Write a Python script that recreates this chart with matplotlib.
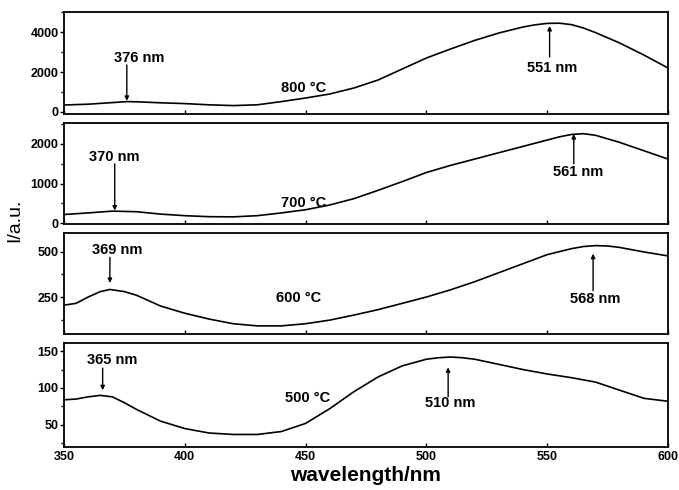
import numpy as np
import matplotlib.pyplot as plt
from matplotlib.ticker import MultipleLocator

plt.rcParams['font.family'] = ['Liberation Sans', 'DejaVu Sans']

# wavelength grids (nm) and intensities (a.u.)
wl_800 = [350, 360, 370, 376, 380, 390, 400, 410, 420, 430, 440, 450, 460, 470, 480,
          490, 500, 510, 520, 530, 540, 545, 550, 555, 560, 565, 570, 580, 590, 600]
i_800 = [350, 390, 470, 520, 510, 460, 420, 360, 320, 360, 520, 700, 900, 1200, 1600,
         2150, 2700, 3150, 3580, 3950, 4250, 4360, 4430, 4440, 4370, 4200, 3970, 3450, 2850, 2200]

wl_700 = [350, 360, 370, 380, 390, 400, 410, 420, 430, 440, 450, 460, 470, 480, 490,
          500, 510, 520, 530, 540, 550, 555, 560, 565, 570, 580, 590, 600]
i_700 = [220, 260, 305, 290, 230, 190, 165, 160, 190, 260, 340, 460, 620, 830, 1050,
         1280, 1460, 1620, 1780, 1940, 2100, 2180, 2240, 2260, 2220, 2040, 1830, 1620]

wl_600 = [350, 355, 360, 365, 369, 375, 380, 390, 400, 410, 420, 430, 440, 450, 460,
          470, 480, 490, 500, 510, 520, 530, 540, 550, 560, 565, 570, 575, 580, 590, 600]
i_600 = [205, 215, 250, 280, 292, 280, 260, 200, 160, 128, 102, 90, 90, 102, 122,
         150, 180, 215, 250, 290, 335, 385, 435, 485, 518, 530, 535, 533, 525, 500, 478]

wl_500 = [350, 355, 360, 365, 370, 375, 380, 390, 400, 410, 420, 430, 440, 450, 460,
          470, 480, 490, 500, 505, 510, 515, 520, 530, 540, 550, 560, 570, 580, 590, 600]
i_500 = [84, 85, 88, 90, 88, 80, 71, 55, 45, 39, 37, 37, 41, 52, 72,
         95, 115, 130, 139, 141, 142, 141, 139, 132, 125, 119, 114, 108, 97, 86, 82]

temps = ['800 °C', '700 °C', '600 °C', '500 °C']
ylims = [(-100, 5000), (-20, 2530), (45, 605), (20, 161)]
ymajor = [2000, 1000, 250, 50]
yminor = [1000, 500, 125, 25]

# label text, text position (x, y), arrow tail y, arrow head (x, y)
peaks = [
    [('376 nm', 381, 2700, 2350, 376, 560), ('551 nm', 552, 2200, 2750, 551, 4300)],
    [('370 nm', 371, 1675, 1500, 371, 320), ('561 nm', 563, 1300, 1500, 561, 2250)],
    [('369 nm', 372, 511, 470, 369, 328), ('568 nm', 570, 239, 285, 569, 490)],
    [('365 nm', 370, 138, 127, 366, 97), ('510 nm', 510, 80, 88, 509, 128)],
]
temp_pos = [(449, 1200), (449, 500), (447, 244), (451, 86)]

fig = plt.figure(figsize=(6.79, 4.9), dpi=100)
boxes = [(114, 12), (224, 123), (334, 233), (447, 343)]
series = [(wl_800, i_800), (wl_700, i_700), (wl_600, i_600), (wl_500, i_500)]
W, H = 679.0, 490.0
for k, ((bot, top), (wl, inten)) in enumerate(zip(boxes, series)):
    ax = fig.add_axes([64 / W, 1 - bot / H, (668 - 64) / W, (bot - top) / H])
    ax.plot(wl, inten, color='black', lw=1.2)
    ax.set_xlim(350, 600)
    ax.set_ylim(*ylims[k])
    ax.xaxis.set_major_locator(MultipleLocator(50))
    ax.xaxis.set_minor_locator(MultipleLocator(25))
    ax.yaxis.set_major_locator(MultipleLocator(ymajor[k]))
    ax.yaxis.set_minor_locator(MultipleLocator(yminor[k]))
    ax.tick_params(axis='x', which='both', direction='in', length=3, width=1)
    ax.tick_params(axis='x', which='minor', length=0)
    ax.tick_params(axis='y', which='major', direction='out', length=3, width=1,
                   labelsize=9, pad=1)
    ax.tick_params(axis='y', which='minor', direction='out', length=2, width=1)
    for s in ax.spines.values():
        s.set_linewidth(1.3)
    for lab in ax.get_yticklabels():
        lab.set_fontweight('bold')
    if k < 3:
        ax.tick_params(axis='x', labelbottom=False)
    else:
        ax.tick_params(axis='x', labelsize=9, pad=3)
        for lab in ax.get_xticklabels():
            lab.set_fontweight('bold')
        ax.set_xlabel('wavelength/nm', fontsize=15, fontweight='bold', labelpad=2)
    for txt, tx, ty, ay0, hx, hy in peaks[k]:
        ax.text(tx, ty, txt, ha='center', va='center', fontsize=10.5, fontweight='bold')
        ax.annotate('', xy=(hx, hy), xytext=(hx, ay0),
                    arrowprops=dict(arrowstyle='-|>', color='black', lw=1,
                                    mutation_scale=6, shrinkA=0, shrinkB=0))
    ax.text(temp_pos[k][0], temp_pos[k][1], temps[k], ha='center', va='center',
            fontsize=10.5, fontweight='bold')

fig.text(0.022, 0.55, 'I/a.u.', rotation=90, ha='center', va='center', fontsize=14)

fig.savefig('out.png', dpi=100)
